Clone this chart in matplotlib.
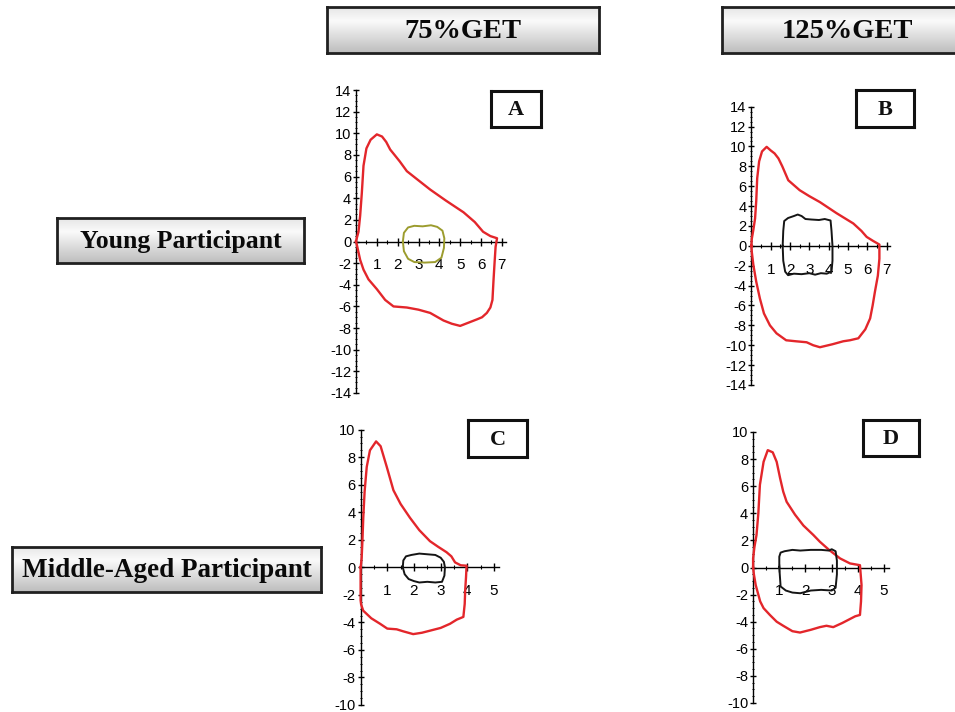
import numpy as np
import matplotlib
matplotlib.use("Agg")
import matplotlib.pyplot as plt
from matplotlib.ticker import MultipleLocator, FixedLocator

plt.rcParams['axes.unicode_minus'] = False

# ---------------- data ----------------
col_headers = ["75%GET", "125%GET"]
row_headers = ["Young Participant", "Middle-Aged Participant"]
panel_letters = ["A", "B", "C", "D"]

# Panel A (young, 75% GET)
a_red_x = [0, 0.05, 0.12, 0.2, 0.28, 0.36, 0.5, 0.7, 1.0, 1.25, 1.45, 1.64, 1.85, 2.1, 2.44, 2.9, 3.56, 4.3,
           5.16, 5.7, 6.1, 6.45, 6.77, 6.7, 6.65, 6.6, 6.55, 6.45, 6.28, 6.05, 5.8, 5.4, 5.0, 4.6, 4.2, 3.56,
           3.0, 2.44, 1.8, 1.4, 1.0, 0.6, 0.36, 0.2, 0.12, 0.04, 0]
a_red_y = [0, 0.4, 0.9, 2.4, 4.5, 7.0, 8.6, 9.4, 9.9, 9.7, 9.2, 8.5, 8.0, 7.4, 6.5, 5.8, 4.8, 3.8,
           2.7, 1.8, 0.9, 0.5, 0.3, -0.5, -2.0, -3.6, -5.4, -6.1, -6.6, -7.0, -7.2, -7.5, -7.8, -7.6, -7.3, -6.6,
           -6.3, -6.1, -6.0, -5.4, -4.4, -3.5, -2.6, -1.7, -1.0, -0.3, 0]
a_in_x = [2.25, 2.3, 2.5, 2.8, 3.2, 3.6, 3.9, 4.15, 4.24, 4.22, 4.1, 3.8, 3.3, 2.8, 2.5, 2.3, 2.25]
a_in_y = [0, 0.8, 1.3, 1.45, 1.4, 1.5, 1.35, 1.0, 0.3, -0.6, -1.5, -1.9, -1.95, -1.9, -1.6, -0.9, 0]

# Panel B (young, 125% GET)
b_red_x = [0, 0.02, 0.1, 0.19, 0.25, 0.3, 0.4, 0.55, 0.79, 1.0, 1.2, 1.4, 1.6, 1.91, 2.5, 3.0, 3.55, 4.4,
           5.28, 5.7, 5.97, 6.3, 6.63, 6.63, 6.55, 6.4, 6.28, 6.15, 5.9, 5.54, 5.1, 4.76, 4.2, 3.55, 3.2, 2.86,
           2.3, 1.8, 1.3, 0.96, 0.65, 0.44, 0.25, 0.1, 0.02, 0]
b_red_y = [0, 0.7, 1.6, 2.75, 4.5, 6.8, 8.5, 9.5, 9.96, 9.6, 9.3, 8.8, 8.0, 6.6, 5.6, 5.0, 4.4, 3.3,
           2.25, 1.5, 0.9, 0.5, 0.13, -1.3, -3.0, -4.6, -6.0, -7.3, -8.4, -9.3, -9.5, -9.6, -9.9, -10.2, -10.0, -9.7,
           -9.6, -9.5, -8.8, -8.0, -6.8, -5.3, -3.6, -1.9, -0.6, 0]
b_in_x = [1.62, 1.65, 1.7, 1.9, 2.2, 2.4, 2.6, 2.8, 3.1, 3.5, 3.8, 4.1, 4.15, 4.2, 4.2, 4.15, 3.9, 3.6, 3.3,
          3.0, 2.6, 2.2, 1.9, 1.75, 1.65, 1.62]
b_in_y = [0, 1.5, 2.5, 2.8, 3.0, 3.15, 3.0, 2.7, 2.65, 2.6, 2.7, 2.55, 1.5, 0, -1.5, -2.6, -2.8, -2.75, -2.9,
          -2.75, -2.85, -2.8, -2.95, -2.6, -1.5, 0]

# Panel C (middle-aged, 75% GET)
c_red_x = [0, 0.02, 0.04, 0.07, 0.1, 0.15, 0.23, 0.35, 0.58, 0.75, 0.98, 1.23, 1.5, 1.85, 2.2, 2.6, 2.9,
           3.22, 3.4, 3.54, 3.75, 3.97, 3.95, 3.92, 3.9, 3.85, 3.6, 3.35, 3.0, 2.6, 2.3, 1.97, 1.6, 1.35, 1.0,
           0.73, 0.4, 0.1, 0.02, 0.0, 0]
c_red_y = [0, 0.3, 0.7, 2.0, 3.6, 5.5, 7.3, 8.5, 9.15, 8.8, 7.3, 5.6, 4.6, 3.6, 2.7, 1.9, 1.5,
           1.1, 0.8, 0.36, 0.15, 0.12, -0.7, -1.6, -2.66, -3.6, -3.8, -4.1, -4.4, -4.6, -4.75, -4.85, -4.65, -4.5, -4.45,
           -4.1, -3.7, -3.15, -2.7, -2.4, 0]
c_in_x = [1.58, 1.6, 1.7, 1.9, 2.2, 2.5, 2.8, 3.0, 3.12, 3.16, 3.14, 3.05, 2.8, 2.5, 2.2, 2.0, 1.8, 1.65, 1.58]
c_in_y = [0, 0.5, 0.8, 0.9, 1.0, 0.95, 0.9, 0.7, 0.4, 0, -0.6, -1.05, -1.1, -1.05, -1.1, -1.0, -0.85, -0.5, 0]

# Panel D (middle-aged, 125% GET)
d_red_x = [0, 0.0, 0.05, 0.13, 0.2, 0.26, 0.4, 0.56, 0.75, 0.9, 1.03, 1.15, 1.28, 1.6, 1.92, 2.3, 2.55, 2.9,
           3.32, 3.7, 4.08, 4.14, 4.12, 4.08, 3.9, 3.7, 3.4, 3.06, 2.8, 2.55, 2.2, 1.79, 1.5, 1.15, 0.9, 0.64,
           0.4, 0.27, 0.1, 0.03, 0]
d_red_y = [0, 0.67, 1.5, 2.4, 4.0, 6.1, 7.8, 8.66, 8.5, 7.8, 6.6, 5.6, 4.85, 3.9, 3.1, 2.4, 1.9, 1.3,
           0.67, 0.3, 0.17, -1.3, -2.5, -3.5, -3.6, -3.8, -4.1, -4.4, -4.3, -4.4, -4.6, -4.8, -4.7, -4.3, -4.0, -3.5,
           -3.0, -2.5, -1.3, -0.5, 0]
d_in_x = [1.0, 1.0, 1.05, 1.2, 1.5, 1.8, 2.2, 2.6, 2.9, 3.0, 3.15, 3.2, 3.2, 3.15, 3.0, 2.6, 2.2, 1.8, 1.5,
          1.25, 1.05, 1.0]
d_in_y = [0, 0.8, 1.1, 1.2, 1.3, 1.25, 1.3, 1.3, 1.25, 1.35, 1.2, 0.5, -0.5, -1.5, -1.7, -1.65, -1.7, -1.9,
          -1.85, -1.7, -1.4, 0]

young_yticks = list(range(-14, 15, 2))
middle_yticks = list(range(-10, 11, 2))
young_xticks = [1, 2, 3, 4, 5, 6, 7]
middle_xticks = [1, 2, 3, 4, 5]

# ---------------- figure ----------------
W, H = 955, 712
fig = plt.figure(figsize=(W / 100, H / 100), dpi=100)
fig.patch.set_facecolor("white")


def px(l, t, w, h):
    return [l / W, 1 - (t + h) / H, w / W, h / H]


grad = np.concatenate([np.linspace(0.90, 0.98, 30), np.linspace(0.98, 0.74, 70)])
grad_img = np.dstack([grad, grad, grad]).reshape(100, 1, 3)


def header_box(l, t, w, h, text, size):
    ax = fig.add_axes(px(l, t, w, h))
    ax.imshow(grad_img, aspect="auto", extent=[0, 1, 0, 1], interpolation="bilinear")
    ax.set_xlim(0, 1)
    ax.set_ylim(0, 1)
    ax.set_xticks([])
    ax.set_yticks([])
    for s in ax.spines.values():
        s.set_linewidth(2.0)
        s.set_color("#202020")
    ax.text(0.5, 0.47, text, ha="center", va="center", fontsize=size, fontweight="bold",
            family="Liberation Serif", color="#0a0a0a")


def letter_box(l, t, w, h, text):
    ax = fig.add_axes(px(l, t, w, h))
    ax.set_xticks([])
    ax.set_yticks([])
    for s in ax.spines.values():
        s.set_linewidth(2.2)
        s.set_color("#111111")
    ax.text(0.5, 0.47, text, ha="center", va="center", fontsize=16, fontweight="bold",
            family="Liberation Serif", color="#111111")


header_box(327, 7, 272, 46, col_headers[0], 20.5)
header_box(722, 7, 250, 46, col_headers[1], 20.5)
header_box(57, 218, 247, 45, row_headers[0], 18.5)
header_box(12, 547, 309, 45, row_headers[1], 19.5)


def panel(rect, xmax, ylim, yticks, xticks, red, inner, inner_color, letter_rect, letter):
    ax = fig.add_axes(px(*rect))
    ax.set_facecolor("none")
    ax.set_xlim(0, xmax)
    ax.set_ylim(-ylim, ylim)
    ax.spines["top"].set_visible(False)
    ax.spines["right"].set_visible(False)
    ax.spines["bottom"].set_position(("data", 0))
    ax.spines["left"].set_linewidth(1.0)
    ax.spines["bottom"].set_linewidth(1.0)
    ax.xaxis.set_major_locator(FixedLocator(xticks))
    ax.xaxis.set_minor_locator(MultipleLocator(0.5))
    ax.yaxis.set_major_locator(FixedLocator(yticks))
    ax.yaxis.set_minor_locator(MultipleLocator(0.5))
    ax.set_xticklabels([str(v) for v in xticks])
    ax.set_yticklabels([str(v) for v in yticks])
    ax.tick_params(axis="x", which="major", direction="inout", length=6, width=1, pad=9,
                   labelsize=11)
    ax.tick_params(axis="x", which="minor", direction="inout", length=3, width=0.8)
    ax.tick_params(axis="y", which="major", direction="inout", length=5, width=1, pad=1,
                   labelsize=10.5)
    ax.tick_params(axis="y", which="minor", direction="inout", length=2, width=0.7)
    for lab in ax.get_xticklabels() + ax.get_yticklabels():
        lab.set_family("Liberation Sans")
    ax.plot(red[0], red[1], color="#e3262b", lw=1.7, clip_on=False, zorder=3,
            solid_joinstyle="round")
    ax.plot(inner[0], inner[1], color=inner_color, lw=1.4, clip_on=False, zorder=3,
            solid_joinstyle="round")
    letter_box(*letter_rect, letter)
    return ax


panel((356, 90, 150, 303), 7.2, 14, young_yticks, young_xticks,
      (a_red_x, a_red_y), (a_in_x, a_in_y), "#9c9c2e", (491, 91, 50, 36), panel_letters[0])
panel((751.4, 106.7, 139, 278.3), 7.2, 14, young_yticks, young_xticks,
      (b_red_x, b_red_y), (b_in_x, b_in_y), "#151515", (856, 90, 58, 37), panel_letters[1])
panel((360.6, 429.7, 138.8, 275.3), 5.2, 10, middle_yticks, middle_xticks,
      (c_red_x, c_red_y), (c_in_x, c_in_y), "#151515", (468, 420, 59, 37), panel_letters[2])
panel((753.1, 432, 136.2, 271), 5.2, 10, middle_yticks, middle_xticks,
      (d_red_x, d_red_y), (d_in_x, d_in_y), "#151515", (863, 420, 56, 36), panel_letters[3])

fig.savefig("out.png", dpi=100, facecolor="white")
